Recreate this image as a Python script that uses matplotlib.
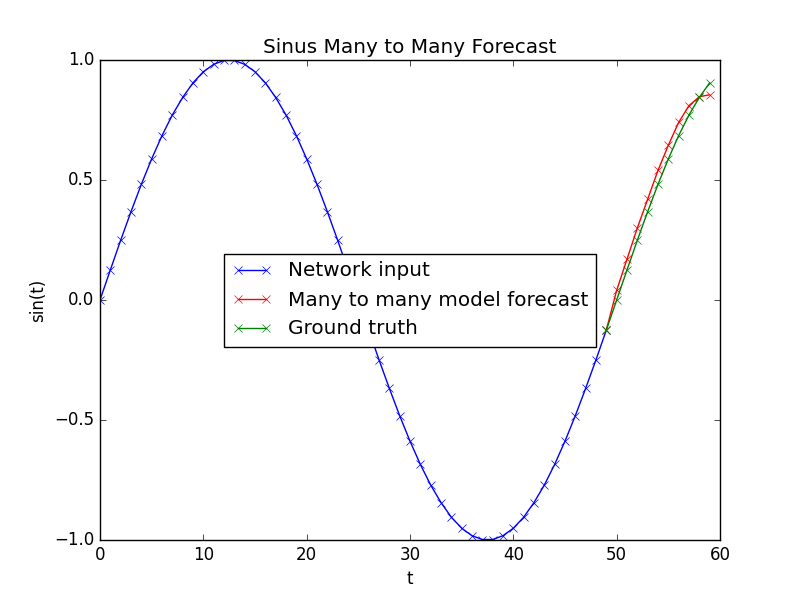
import matplotlib
matplotlib.use("Agg")
import matplotlib.pyplot as plt

plt.style.use("classic")

# network input, t = 0..49
input_t = list(range(50))
input_vals = [0.000, 0.125, 0.249, 0.368, 0.482, 0.588, 0.685, 0.771, 0.844, 0.905,
              0.951, 0.982, 0.998, 0.998, 0.982, 0.951, 0.905, 0.844, 0.771, 0.685,
              0.588, 0.482, 0.368, 0.249, 0.125, 0.000, -0.125, -0.249, -0.368, -0.482,
              -0.588, -0.685, -0.771, -0.844, -0.905, -0.951, -0.982, -0.998, -0.998, -0.982,
              -0.951, -0.905, -0.844, -0.771, -0.685, -0.588, -0.482, -0.368, -0.249, -0.125]

# forecast and ground truth, t = 49..59
future_t = list(range(49, 60))
forecast_vals = [-0.125, 0.04, 0.17, 0.30, 0.42, 0.54, 0.645, 0.74, 0.81, 0.847, 0.855]
truth_vals = [-0.125, 0.000, 0.125, 0.249, 0.368, 0.482, 0.588, 0.685, 0.771, 0.844, 0.905]

fig = plt.figure(figsize=(8, 6), dpi=100)
ax = fig.add_subplot(111)
ax.plot(input_t, input_vals, "bx-", label="Network input")
ax.plot(future_t, forecast_vals, "rx-", label="Many to many model forecast")
ax.plot(future_t, truth_vals, "gx-", label="Ground truth")
ax.set_xlim(0, 60)
ax.set_ylim(-1.0, 1.0)
ax.set_yticks([-1.0, -0.5, 0.0, 0.5, 1.0])
ax.set_title("Sinus Many to Many Forecast")
ax.set_xlabel("t")
ax.set_ylabel("sin(t)")
ax.legend(loc="center")
fig.savefig("out.png", dpi=100)
